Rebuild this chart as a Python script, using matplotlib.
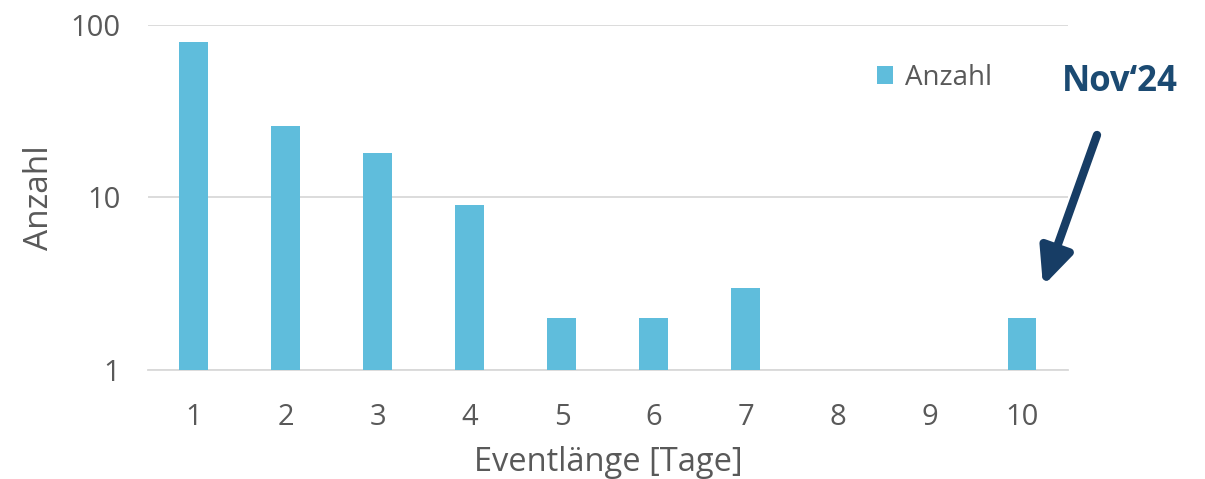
import matplotlib.pyplot as plt
import numpy as np

plt.rcParams["font.family"] = ["Open Sans", "DejaVu Sans"]

# data
tage = [1, 2, 3, 4, 5, 6, 7, 8, 9, 10]
anzahl = [80, 26, 18, 9, 2, 2, 3, 0, 0, 2]

bar_color = "#5FBDDC"
text_color = "#595959"
grid_color = "#D9D9D9"
navy = "#173D65"

fig = plt.figure(figsize=(12.05, 4.79), dpi=100)
ax = fig.add_axes([0.1228, 0.2276, 0.7635, 0.7202])

ax.bar(tage, anzahl, width=0.315, color=bar_color, label="Anzahl", zorder=3)
ax.set_yscale("log")
ax.set_ylim(1, 100)
ax.set_xlim(0.5, 10.5)
ax.set_yticks([1, 10, 100])
ax.set_yticklabels(["1", "10", "100"])
ax.minorticks_off()
ax.set_xticks(tage)
ax.set_xticklabels([str(t) for t in tage])

ax.yaxis.grid(True, color=grid_color, linewidth=1.3, zorder=0)
for s in ["top", "right", "left"]:
    ax.spines[s].set_visible(False)
ax.spines["bottom"].set_color(grid_color)
ax.spines["bottom"].set_linewidth(1.3)
ax.tick_params(axis="both", length=0, labelsize=21, labelcolor=text_color)
ax.tick_params(axis="x", pad=24)
ax.tick_params(axis="y", pad=20)

ax.set_xlabel("Eventlänge [Tage]", fontsize=23.5, color=text_color, labelpad=10)
ax.set_ylabel("Anzahl", fontsize=24, color=text_color, labelpad=10)

ax.legend(loc="upper left", bbox_to_anchor=(0.765, 0.96), frameon=False,
          fontsize=20, labelcolor=text_color, handlelength=0.6,
          handleheight=0.6, handletextpad=0.4)

fig.text(1120 / 1205, 1 - 82 / 479, "Nov‘24", fontsize=25, fontweight="bold",
         color="#1B4A72", ha="center", va="center")
ax.annotate("", xy=(1043 / 1205, 1 - 286 / 479), xycoords="figure fraction",
            xytext=(1097 / 1205, 1 - 135 / 479), textcoords="figure fraction",
            arrowprops=dict(arrowstyle="-|>,head_length=2.2,head_width=1.0",
                            color=navy, lw=6, shrinkA=0, shrinkB=0))

fig.savefig("out.png", dpi=100)
